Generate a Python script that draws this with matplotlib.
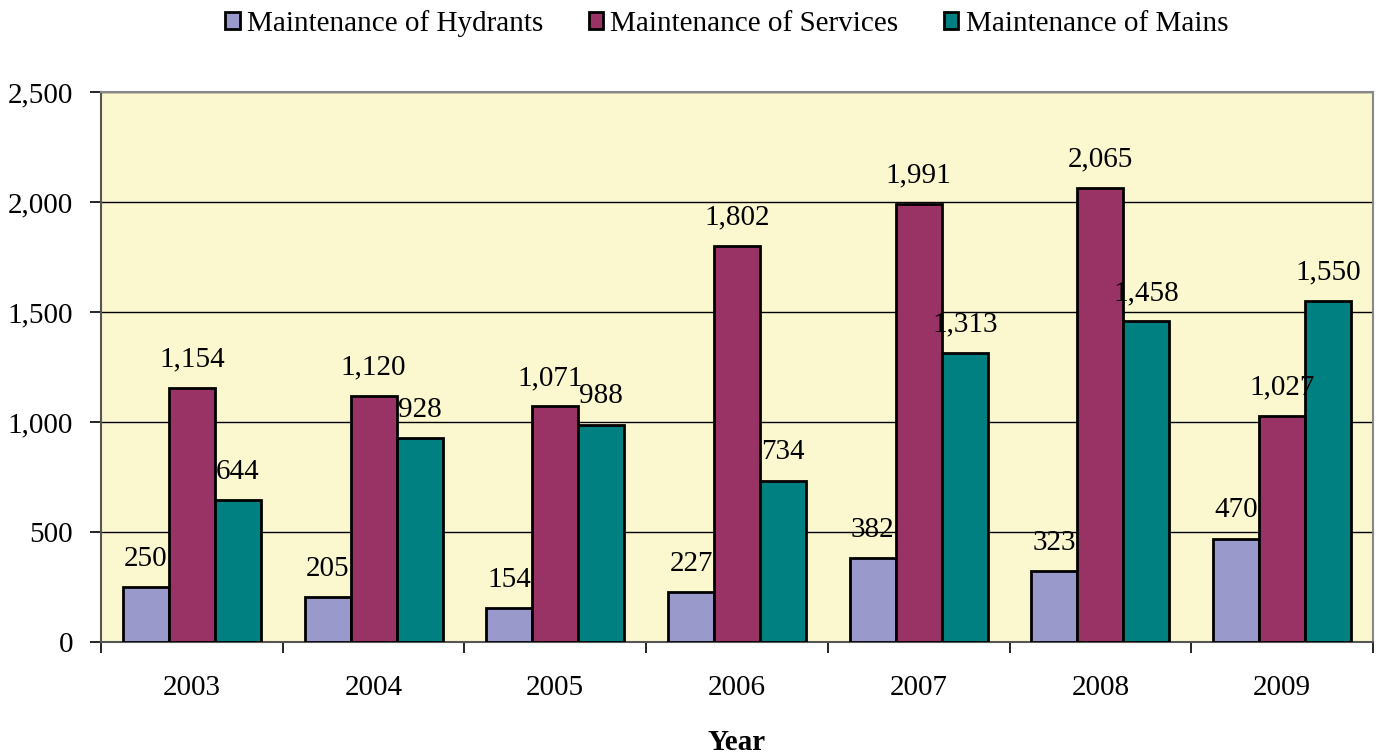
import matplotlib.pyplot as plt
import numpy as np

anos = ["2003", "2004", "2005", "2006", "2007", "2008", "2009"]
hidrantes = [250, 205, 154, 227, 382, 323, 470]
servicos = [1154, 1120, 1071, 1802, 1991, 2065, 1027]
redes = [644, 928, 988, 734, 1313, 1458, 1550]

series = [
    ("Maintenance of Hydrants", hidrantes, "#9999CC"),
    ("Maintenance of Services", servicos, "#993366"),
    ("Maintenance of Mains", redes, "#008080"),
]

plt.rcParams["font.family"] = ["Liberation Serif", "DejaVu Serif"]
plt.rcParams["font.size"] = 21

fig = plt.figure(figsize=(13.79, 7.55), dpi=100)
ax = fig.add_axes([101 / 1379, 113 / 755, 1272 / 1379, 550 / 755])
ax.set_facecolor("#FBF8D0")

x = np.arange(len(anos))
largura = 0.253
for i, (nome, valores, cor) in enumerate(series):
    pos = x + (i - 1) * largura
    ax.bar(pos, valores, largura, color=cor, edgecolor="black",
           linewidth=2, label=nome, zorder=3)
    for j, (xb, v) in enumerate(zip(pos, valores)):
        # rótulo de 2005 (serviços) levemente deslocado, como no original
        dx = -4 if (i == 1 and j == 2) else 0
        ax.annotate(f"{v:,}", (xb, v), xytext=(dx, 11), textcoords="offset points",
                    ha="center", va="bottom", fontsize=21, zorder=4)

ax.set_xlim(-0.5, len(anos) - 0.5)
ax.set_ylim(0, 2500)
ax.set_yticks(np.arange(0, 2501, 500))
ax.yaxis.set_major_formatter(plt.FuncFormatter(lambda v, p: f"{int(v):,}"))
ax.set_xticks(x)
ax.set_xticklabels(anos)
ax.set_xticks(np.arange(-0.5, len(anos), 1), minor=True)
ax.tick_params(axis="x", which="major", length=0, pad=24)
ax.tick_params(axis="x", which="minor", length=8, width=1.2, color="black")
ax.tick_params(axis="y", length=8, width=1.2, pad=12)
ax.grid(axis="y", color="black", linewidth=1, zorder=0)

for lado in ("top", "right"):
    ax.spines[lado].set_color("#888888")
    ax.spines[lado].set_linewidth(1.5)
for lado in ("left", "bottom"):
    ax.spines[lado].set_color("#555555")
    ax.spines[lado].set_linewidth(1.5)

ax.set_xlabel("Year", fontweight="bold", fontsize=21, labelpad=20)

fig.legend(loc="upper center", bbox_to_anchor=(0.527, 1.022), ncol=3, frameon=False,
           handlelength=0.5, handleheight=0.5, handletextpad=0.25, columnspacing=1.55,
           fontsize=21)

fig.savefig("out.png", dpi=100)
